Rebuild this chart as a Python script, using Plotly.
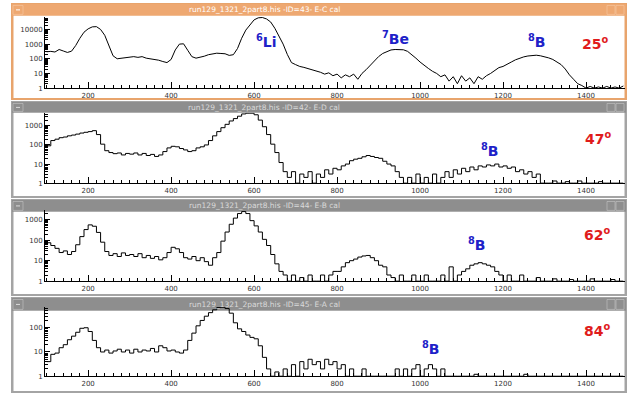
import plotly.graph_objects as go

W, H = 629, 401

# channel (bin start), 10-unit bins
channels = list(range(100, 1500, 10))

counts_25 = [
    300, 320, 290, 430, 340, 270, 330, 800, 2500, 6500,
    11000, 15000, 15500, 10000, 4000, 800, 160, 100, 110, 120,
    130, 140, 125, 140, 110, 100, 95, 80, 65, 55,
    90, 400, 1000, 1050, 380, 140, 110, 125, 150, 190,
    220, 240, 230, 220, 170, 190, 500, 2500, 9000, 22000,
    45000, 62000, 65000, 52000, 32000, 12000, 3500, 1000, 200, 55,
    40, 30, 26, 22, 18, 14, 12, 9, 11, 7,
    9, 5, 8, 6, 9, 4, 10, 18, 35, 80,
    140, 230, 320, 400, 430, 440, 410, 320, 200, 110,
    60, 35, 22, 14, 10, 6, 8, 3, 6, 2,
    7, 3, 5, 2, 6, 4, 7, 10, 15, 25,
    30, 40, 60, 85, 110, 135, 155, 170, 175, 160,
    140, 115, 90, 60, 40, 20, 8, 4, 2, 1.5,
    1, 1.3, 1, 1.2, 1, 1.3, 1, 1.2, 1, 1.4,
]

counts_47 = [
    90, 170, 200, 240, 260, 300, 330, 370, 420, 460,
    500, 560, 350, 110, 50, 40, 35, 38, 30, 36,
    33, 38, 30, 36, 28, 32, 25, 30, 45, 70,
    85, 80, 65, 55, 45, 50, 70, 80, 100, 170,
    300, 500, 800, 1200, 1800, 2400, 3200, 4200, 4600, 4600,
    3800, 2000, 900, 350, 110, 40, 12, 4, 2, 4,
    1, 3, 2, 4, 1, 3, 2, 5, 3, 6,
    5, 8, 10, 15, 18, 20, 24, 28, 25, 22,
    20, 14, 10, 8, 4, 2, 1, 2, 1, 3,
    1, 2, 1, 3, 1, 2, 4, 2, 5, 3,
    6, 4, 7, 5, 8, 7, 9, 8, 10, 7,
    8, 6, 7, 4, 5, 3, 4, 2, 3, 1,
    1, 1, 1.3, 1, 1, 1.2, 1, 1, 1.3, 1,
    1, 1, 1, 1.2, 1, 1, 1, 1, 1, 1,
]

counts_62 = [
    75, 55, 40, 25, 30, 20, 28, 60, 150, 330,
    560, 480, 240, 80, 28, 18, 22, 16, 24, 18,
    20, 16, 22, 14, 18, 13, 16, 11, 14, 25,
    45, 38, 25, 14, 12, 16, 10, 14, 9, 6,
    14, 25, 90, 250, 600, 1200, 2000, 2500, 2000, 900,
    500, 250, 110, 55, 20, 7, 3, 2, 1, 2,
    1, 1.5, 1, 2, 1, 1, 2, 1, 2, 3,
    3, 5, 8, 10, 12, 15, 17, 18, 14, 10,
    6, 5, 2, 1.5, 1, 2, 1, 1, 2, 1,
    1, 2, 1, 1, 1, 2, 1, 5, 1, 2,
    3, 4, 6, 7, 8, 7, 6, 5, 3, 2,
    1, 2, 1, 1, 2, 1, 1, 1, 1.5, 1,
    1, 1, 1.3, 1, 1, 1, 1.2, 1, 1, 1,
    1, 1.3, 1, 1, 1, 1, 1.2, 1, 1, 1,
]

counts_84 = [
    4, 8, 9, 15, 20, 32, 45, 65, 95, 100,
    70, 30, 15, 10, 12, 9, 11, 13, 10, 12,
    9, 13, 10, 12, 11, 14, 10, 18, 15, 11,
    12, 10, 9, 12, 30, 60, 120, 200, 300, 420,
    550, 680, 700, 620, 400, 160, 90, 70, 50, 40,
    35, 18, 6, 2, 1, 1.5, 1, 2, 1, 3,
    1, 4, 2, 5, 3, 4, 2, 5, 3, 4,
    2, 3, 1, 2, 1, 1, 2, 1, 1, 1,
    1, 1, 1, 1, 2, 1, 2, 1, 2, 3,
    1, 2, 3, 2, 1, 2, 1, 1, 1, 1,
    1, 1, 1, 1.2, 1, 1, 1, 1, 1, 1,
    1, 1, 1, 1, 1, 1.2, 1, 1, 1, 1,
    1, 1, 1, 1, 1, 1, 1, 1, 1, 1,
    1, 1, 1, 1, 1, 1, 1, 1, 1, 1,
]

series = [counts_25, counts_47, counts_62, counts_84]
titles = [
    "run129_1321_2part8.his -ID=43- E-C cal",
    "run129_1321_2part8.his -ID=42- E-D cal",
    "run129_1321_2part8.his -ID=44- E-B cal",
    "run129_1321_2part8.his -ID=45- E-A cal",
]
angles = ["25", "47", "62", "84"]
ytops = [4.86, 3.68, 3.48, 2.86]
x_range = [96, 1494]
x_labels = [200, 400, 600, 800, 1000, 1200, 1400]

# layout geometry (pixels)
win = [  # (top, bar_bottom, bottom)
    (3, 16, 101),
    (102, 114, 200),
    (201, 214, 299),
    (300, 314, 397),
]
plot_px = [(17, 89), (114, 185), (212, 284), (310, 380)]
ax_x0, ax_x1 = 45, 625

def px(x):
    return x / W

def py(y):
    return 1 - y / H

fig = go.Figure()
shapes = []
annotations = []

for i, (top, bar_b, bot) in enumerate(win):
    active = i == 0
    frame = "#E8A46C" if active else "#A4A4A4"
    bar = "#EEA871" if active else "#8E8E8E"
    tcol = "#FFFFFF" if active else "#DADADA"
    shapes.append(dict(type="rect", xref="paper", yref="paper", layer="below",
                       x0=px(11), x1=px(627), y0=py(bot), y1=py(top),
                       fillcolor=frame, line=dict(width=0)))
    shapes.append(dict(type="rect", xref="paper", yref="paper", layer="below",
                       x0=px(12), x1=px(626), y0=py(bar_b), y1=py(top + 1),
                       fillcolor=bar, line=dict(width=0)))
    shapes.append(dict(type="rect", xref="paper", yref="paper", layer="below",
                       x0=px(13.5), x1=px(624.5), y0=py(bot - 2), y1=py(bar_b),
                       fillcolor="white", line=dict(width=0)))
    for bx0, bx1 in [(13, 23), (607, 615), (616, 624)]:
        shapes.append(dict(type="rect", xref="paper", yref="paper", layer="below",
                           x0=px(bx0), x1=px(bx1), y0=py(bar_b - 1.5), y1=py(top + 2.5),
                           fillcolor=bar, line=dict(width=0.6, color="#C8C8C8" if not active else "#F6CBA6")))
    shapes.append(dict(type="line", xref="paper", yref="paper", layer="below",
                       x0=px(16), x1=px(20), y0=py((top + bar_b) / 2 + 0.5), y1=py((top + bar_b) / 2 + 0.5),
                       line=dict(width=1, color=tcol)))
    annotations.append(dict(xref="paper", yref="paper", x=px(264), y=py((top + bar_b) / 2 + 0.5),
                            text=titles[i], showarrow=False, xanchor="center", yanchor="middle",
                            font=dict(family="DejaVu Sans", size=7.5, color=tcol)))

for i, ys in enumerate(series):
    n = i + 1
    xa = "x" if n == 1 else f"x{n}"
    ya = "y" if n == 1 else f"y{n}"
    fig.add_trace(go.Scatter(x=channels, y=ys, mode="lines",
                             line_shape="linear" if i == 0 else "hv",
                             line=dict(color="black", width=1), xaxis=xa, yaxis=ya,
                             showlegend=False, hoverinfo="skip"))
    t, b = plot_px[i]
    xkey = "xaxis" if n == 1 else f"xaxis{n}"
    ykey = "yaxis" if n == 1 else f"yaxis{n}"
    decades = [10 ** k for k in range(0, 5) if k <= ytops[i]]
    minors = [m * 10 ** k for k in range(0, 5) for m in range(2, 10) if m * 10 ** k <= 10 ** ytops[i]]
    fig.update_layout(**{
        xkey: dict(domain=[px(ax_x0), px(ax_x1)], range=x_range, anchor=ya,
                   showline=True, linecolor="black", linewidth=1, mirror=False,
                   showgrid=False, zeroline=False, ticks="inside", ticklen=6,
                   tickcolor="black", tickwidth=1, tickmode="array", tickvals=x_labels,
                   ticktext=[str(v) for v in x_labels],
                   tickfont=dict(family="DejaVu Sans", size=7, color="#333333"),
                   minor=dict(ticks="inside", ticklen=3, tickcolor="black", dtick=20, tick0=0,
                              showgrid=False)),
        ykey: dict(domain=[py(b), py(t)], type="log", range=[0, ytops[i]], anchor=xa,
                   showline=True, linecolor="black", linewidth=1, showgrid=False, zeroline=False,
                   ticks="inside", ticklen=5, tickcolor="black", tickwidth=1,
                   tickmode="array",
                   tickvals=decades,
                   ticktext=[str(v) for v in decades],
                   tickfont=dict(family="DejaVu Sans", size=7, color="#333333"),
                   minor=dict(ticks="inside", ticklen=3, tickcolor="black", tickmode="array",
                              tickvals=minors, showgrid=False)),
    })

blue = "#1E22C8"
red = "#E01B1B"
iso_labels = [
    [("<sup>6</sup>Li", 266, 41), ("<sup>7</sup>Be", 395, 38), ("<sup>8</sup>B", 537, 41)],
    [("<sup>8</sup>B", 490, 152)],
    [("<sup>8</sup>B", 477, 246)],
    [("<sup>8</sup>B", 431, 352)],
]
ang_pos = [(595, 43), (598, 139), (597, 236), (597, 333)]
for i in range(4):
    for txt, ax, ay in iso_labels[i]:
        annotations.append(dict(xref="paper", yref="paper", x=px(ax), y=py(ay), text="<b>" + txt + "</b>",
                                showarrow=False, xanchor="center", yanchor="middle",
                                font=dict(family="DejaVu Sans", size=14, color=blue)))
    annotations.append(dict(xref="paper", yref="paper", x=px(ang_pos[i][0]), y=py(ang_pos[i][1]),
                            text="<b>" + angles[i] + "<sup>o</sup></b>", showarrow=False,
                            xanchor="center", yanchor="middle",
                            font=dict(family="DejaVu Sans", size=14, color=red)))

fig.update_layout(width=W, height=H, margin=dict(l=0, r=0, t=0, b=0, pad=0),
                  paper_bgcolor="white", plot_bgcolor="rgba(0,0,0,0)",
                  shapes=shapes, annotations=annotations, showlegend=False)

fig.write_html("out.html", config={"displayModeBar": False})
